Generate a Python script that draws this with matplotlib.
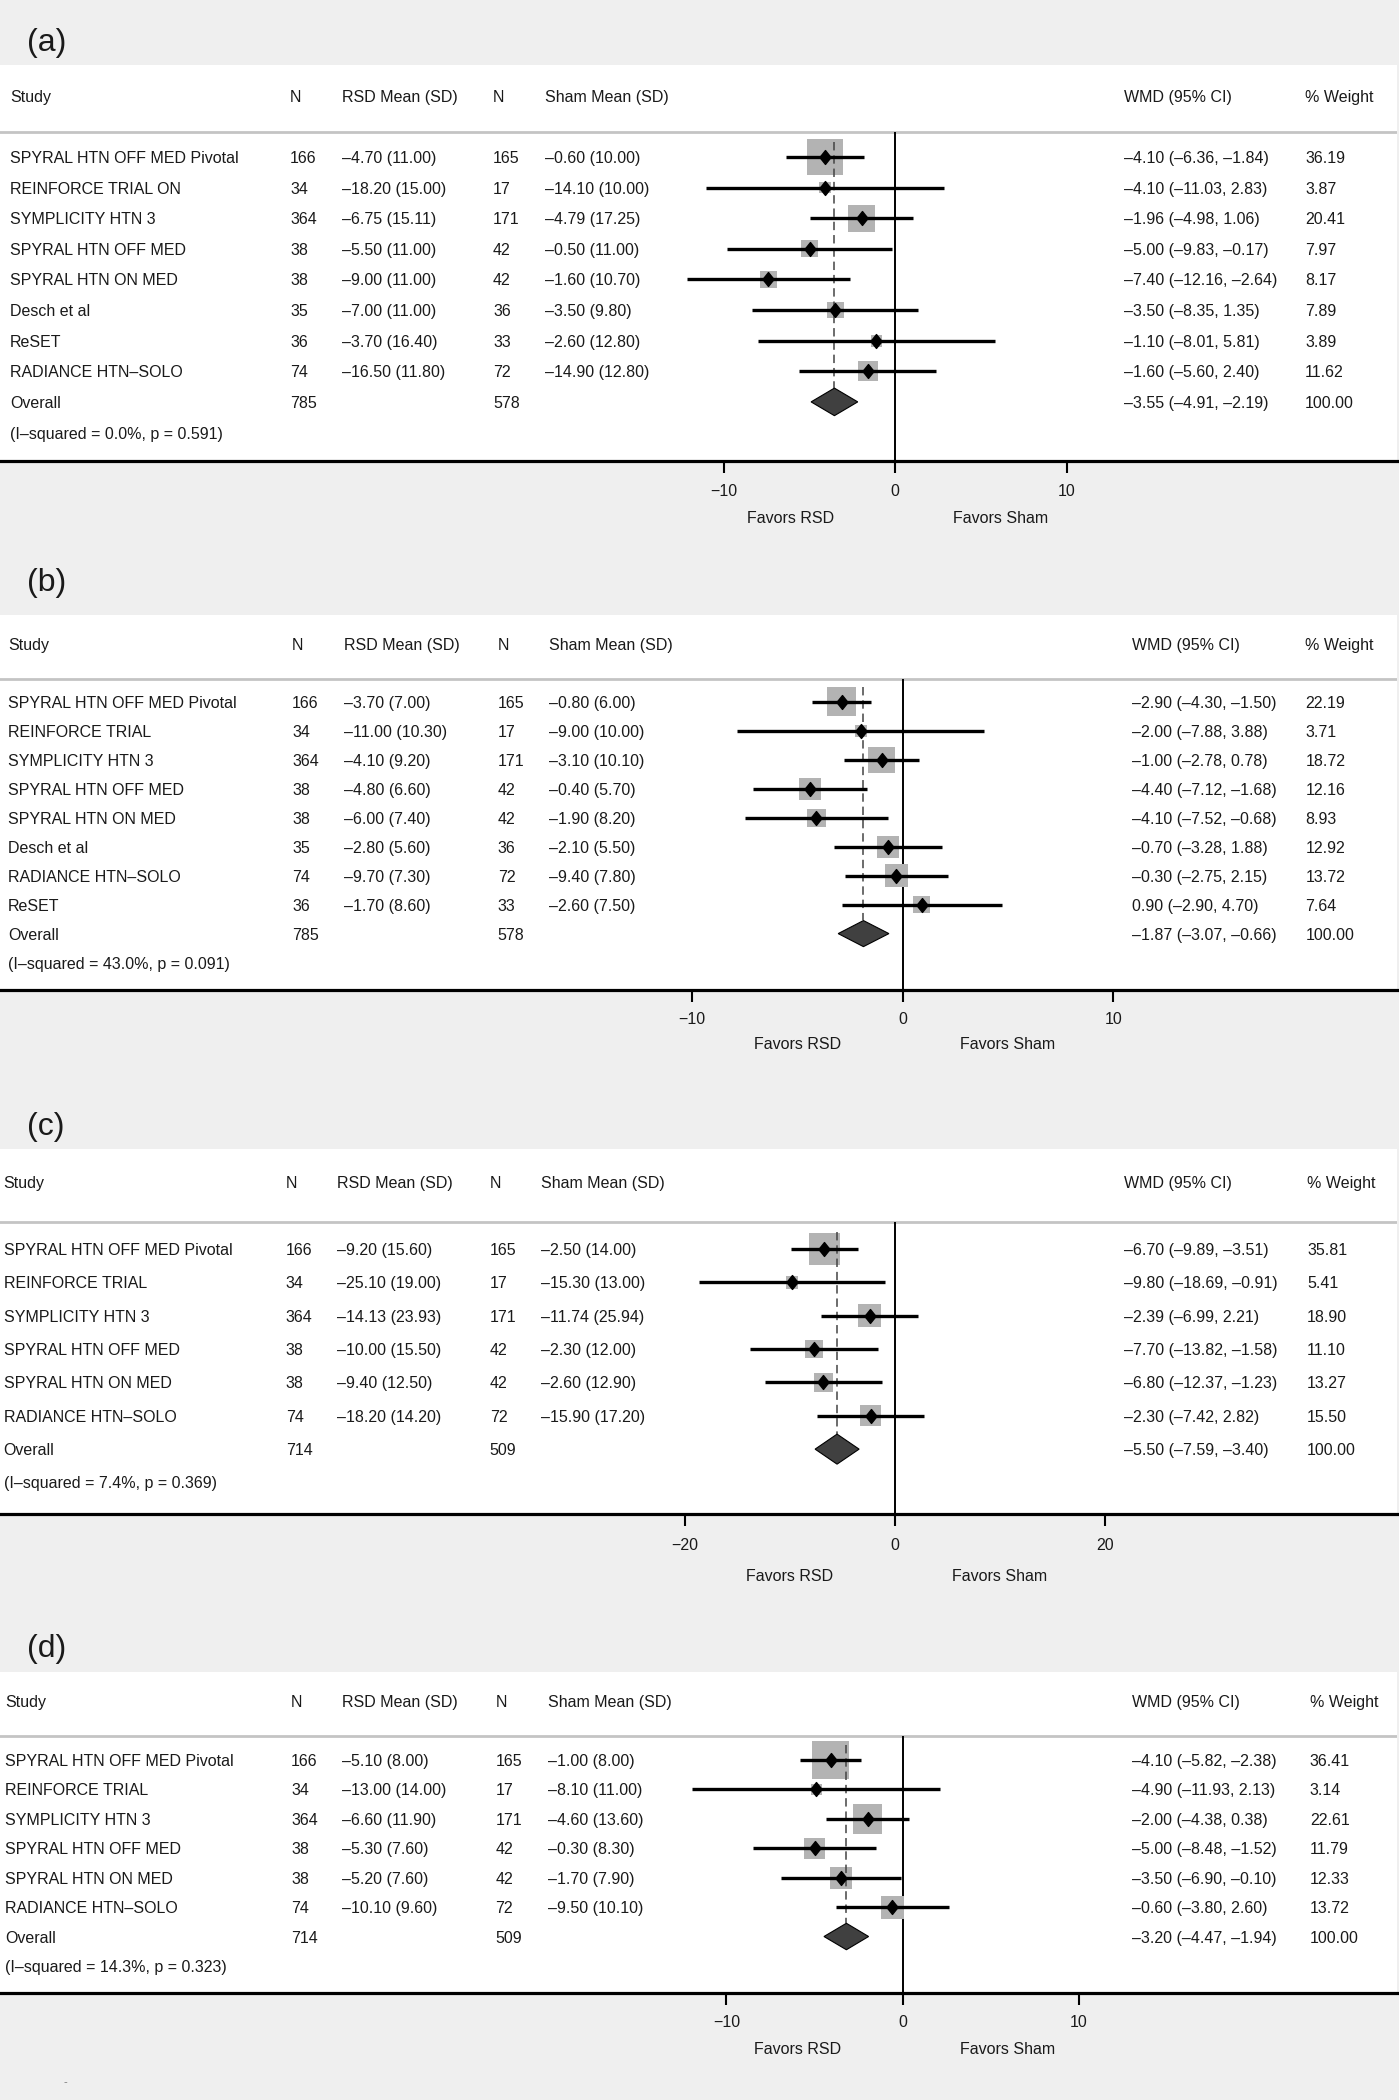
import matplotlib
matplotlib.use("Agg")
import matplotlib.pyplot as plt
from matplotlib.path import Path
from matplotlib.patches import Polygon
import matplotlib.transforms as mtransforms
import numpy as np

plt.rcParams['font.family'] = ['Liberation Sans', 'DejaVu Sans']

# ---------------- data ----------------
# Panel (a)
studies_a = ["SPYRAL HTN OFF MED Pivotal", "REINFORCE TRIAL ON", "SYMPLICITY HTN 3",
             "SPYRAL HTN OFF MED", "SPYRAL HTN ON MED", "Desch et al", "ReSET",
             "RADIANCE HTN–SOLO"]
n_rsd_a = [166, 34, 364, 38, 38, 35, 36, 74]
rsd_mean_a = [-4.70, -18.20, -6.75, -5.50, -9.00, -7.00, -3.70, -16.50]
rsd_sd_a = [11.00, 15.00, 15.11, 11.00, 11.00, 11.00, 16.40, 11.80]
n_sham_a = [165, 17, 171, 42, 42, 36, 33, 72]
sham_mean_a = [-0.60, -14.10, -4.79, -0.50, -1.60, -3.50, -2.60, -14.90]
sham_sd_a = [10.00, 10.00, 17.25, 11.00, 10.70, 9.80, 12.80, 12.80]
wmd_a = [-4.10, -4.10, -1.96, -5.00, -7.40, -3.50, -1.10, -1.60]
lo_a = [-6.36, -11.03, -4.98, -9.83, -12.16, -8.35, -8.01, -5.60]
hi_a = [-1.84, 2.83, 1.06, -0.17, -2.64, 1.35, 5.81, 2.40]
wt_a = [36.19, 3.87, 20.41, 7.97, 8.17, 7.89, 3.89, 11.62]
total_a = [785, 578]
overall_a = [-3.55, -4.91, -2.19]
het_a = [0.0, 0.591]
ticks_a = [-10, 0, 10]

# Panel (b)
studies_b = ["SPYRAL HTN OFF MED Pivotal", "REINFORCE TRIAL", "SYMPLICITY HTN 3",
             "SPYRAL HTN OFF MED", "SPYRAL HTN ON MED", "Desch et al",
             "RADIANCE HTN–SOLO", "ReSET"]
n_rsd_b = [166, 34, 364, 38, 38, 35, 74, 36]
rsd_mean_b = [-3.70, -11.00, -4.10, -4.80, -6.00, -2.80, -9.70, -1.70]
rsd_sd_b = [7.00, 10.30, 9.20, 6.60, 7.40, 5.60, 7.30, 8.60]
n_sham_b = [165, 17, 171, 42, 42, 36, 72, 33]
sham_mean_b = [-0.80, -9.00, -3.10, -0.40, -1.90, -2.10, -9.40, -2.60]
sham_sd_b = [6.00, 10.00, 10.10, 5.70, 8.20, 5.50, 7.80, 7.50]
wmd_b = [-2.90, -2.00, -1.00, -4.40, -4.10, -0.70, -0.30, 0.90]
lo_b = [-4.30, -7.88, -2.78, -7.12, -7.52, -3.28, -2.75, -2.90]
hi_b = [-1.50, 3.88, 0.78, -1.68, -0.68, 1.88, 2.15, 4.70]
wt_b = [22.19, 3.71, 18.72, 12.16, 8.93, 12.92, 13.72, 7.64]
total_b = [785, 578]
overall_b = [-1.87, -3.07, -0.66]
het_b = [43.0, 0.091]
ticks_b = [-10, 0, 10]

# Panel (c)
studies_c = ["SPYRAL HTN OFF MED Pivotal", "REINFORCE TRIAL", "SYMPLICITY HTN 3",
             "SPYRAL HTN OFF MED", "SPYRAL HTN ON MED", "RADIANCE HTN–SOLO"]
n_rsd_c = [166, 34, 364, 38, 38, 74]
rsd_mean_c = [-9.20, -25.10, -14.13, -10.00, -9.40, -18.20]
rsd_sd_c = [15.60, 19.00, 23.93, 15.50, 12.50, 14.20]
n_sham_c = [165, 17, 171, 42, 42, 72]
sham_mean_c = [-2.50, -15.30, -11.74, -2.30, -2.60, -15.90]
sham_sd_c = [14.00, 13.00, 25.94, 12.00, 12.90, 17.20]
wmd_c = [-6.70, -9.80, -2.39, -7.70, -6.80, -2.30]
lo_c = [-9.89, -18.69, -6.99, -13.82, -12.37, -7.42]
hi_c = [-3.51, -0.91, 2.21, -1.58, -1.23, 2.82]
wt_c = [35.81, 5.41, 18.90, 11.10, 13.27, 15.50]
total_c = [714, 509]
overall_c = [-5.50, -7.59, -3.40]
het_c = [7.4, 0.369]
ticks_c = [-20, 0, 20]

# Panel (d)
studies_d = ["SPYRAL HTN OFF MED Pivotal", "REINFORCE TRIAL", "SYMPLICITY HTN 3",
             "SPYRAL HTN OFF MED", "SPYRAL HTN ON MED", "RADIANCE HTN–SOLO"]
n_rsd_d = [166, 34, 364, 38, 38, 74]
rsd_mean_d = [-5.10, -13.00, -6.60, -5.30, -5.20, -10.10]
rsd_sd_d = [8.00, 14.00, 11.90, 7.60, 7.60, 9.60]
n_sham_d = [165, 17, 171, 42, 42, 72]
sham_mean_d = [-1.00, -8.10, -4.60, -0.30, -1.70, -9.50]
sham_sd_d = [8.00, 11.00, 13.60, 8.30, 7.90, 10.10]
wmd_d = [-4.10, -4.90, -2.00, -5.00, -3.50, -0.60]
lo_d = [-5.82, -11.93, -4.38, -8.48, -6.90, -3.80]
hi_d = [-2.38, 2.13, 0.38, -1.52, -0.10, 2.60]
wt_d = [36.41, 3.14, 22.61, 11.79, 12.33, 13.72]
total_d = [714, 509]
overall_d = [-3.20, -4.47, -1.94]
het_d = [14.3, 0.323]
ticks_d = [-10, 0, 10]

panel_labels = ["(a)", "(b)", "(c)", "(d)"]
headers = ["Study", "N", "RSD Mean (SD)", "N", "Sham Mean (SD)", "WMD (95% CI)", "% Weight"]
favors = ["Favors RSD", "Favors Sham"]

# ---------------- layout (pixels) ----------------
W, H = 1399, 2100
PANEL_W = 1397
layouts = [
    dict(top=65, bottom=461, zero=895.3, k=17.15, label_y=43, fav_dy=58, box=6.0, tpad=8.1,
         cols=[10, 290, 341.5, 493, 545, 1123.5, 1305]),
    dict(top=615, bottom=989.5, zero=902.8, k=21.05, label_y=583, fav_dy=55, box=6.15, tpad=7.8,
         cols=[8, 292, 343.7, 497.7, 549, 1131.5, 1305.4]),
    dict(top=1149, bottom=1513.5, zero=894.8, k=10.5, label_y=1127, fav_dy=62.7, box=5.3, tpad=9.4,
         cols=[3.6, 285.7, 337, 489.7, 541, 1123.5, 1307]),
    dict(top=1671.7, bottom=1993.3, zero=902.8, k=17.63, label_y=1649, fav_dy=55.7, box=6.2, tpad=7.2,
         cols=[5.4, 291, 342.4, 495.5, 548.2, 1132.4, 1309.8]),
]

panels = [
    dict(studies=studies_a, n_rsd=n_rsd_a, rsd_mean=rsd_mean_a, rsd_sd=rsd_sd_a,
         n_sham=n_sham_a, sham_mean=sham_mean_a, sham_sd=sham_sd_a, wmd=wmd_a,
         lo=lo_a, hi=hi_a, wt=wt_a, total=total_a, overall=overall_a, het=het_a, ticks=ticks_a),
    dict(studies=studies_b, n_rsd=n_rsd_b, rsd_mean=rsd_mean_b, rsd_sd=rsd_sd_b,
         n_sham=n_sham_b, sham_mean=sham_mean_b, sham_sd=sham_sd_b, wmd=wmd_b,
         lo=lo_b, hi=hi_b, wt=wt_b, total=total_b, overall=overall_b, het=het_b, ticks=ticks_b),
    dict(studies=studies_c, n_rsd=n_rsd_c, rsd_mean=rsd_mean_c, rsd_sd=rsd_sd_c,
         n_sham=n_sham_c, sham_mean=sham_mean_c, sham_sd=sham_sd_c, wmd=wmd_c,
         lo=lo_c, hi=hi_c, wt=wt_c, total=total_c, overall=overall_c, het=het_c, ticks=ticks_c),
    dict(studies=studies_d, n_rsd=n_rsd_d, rsd_mean=rsd_mean_d, rsd_sd=rsd_sd_d,
         n_sham=n_sham_d, sham_mean=sham_mean_d, sham_sd=sham_sd_d, wmd=wmd_d,
         lo=lo_d, hi=hi_d, wt=wt_d, total=total_d, overall=overall_d, het=het_d, ticks=ticks_d),
]

TXT = '#1a1a1a'
FS = 11.5
BG = '#efefef'

pt_marker = Path([(0, 1), (0.8, 0), (0, -1), (-0.8, 0), (0, 1)],
                 [Path.MOVETO, Path.LINETO, Path.LINETO, Path.LINETO, Path.CLOSEPOLY])


def fmt(v):
    return f"{v:.2f}".replace("-", "–")


fig = plt.figure(figsize=(W / 100, H / 100), dpi=100, facecolor=BG)

for label, p, L in zip(panel_labels, panels, layouts):
    n = len(p["studies"])
    ybot = n + 1.93
    ax = fig.add_axes([0, 1 - L["bottom"] / H, PANEL_W / W, (L["bottom"] - L["top"]) / H])
    ax.set_facecolor('white')
    ax.set_xlim(-L["zero"] / L["k"], (PANEL_W - L["zero"]) / L["k"])
    ax.set_ylim(ybot, -3.0)
    for s in ["top", "left", "right"]:
        ax.spines[s].set_visible(False)
    ax.spines["bottom"].set_linewidth(2.3)
    ax.spines["bottom"].set_color("black")
    ax.set_yticks([])
    ax.set_xticks(p["ticks"])
    ax.tick_params(axis="x", direction="out", length=8.5, width=1.5, pad=L["tpad"],
                   labelsize=FS, labelcolor=TXT, color="black")

    # header separator and zero line
    ax.axhline(-0.8, color="#c4c4c4", lw=2.0, zorder=1)
    ax.vlines(0, -0.8, ybot, color="black", lw=1.4, zorder=1)

    y = np.arange(n)
    wt = np.array(p["wt"])
    side_pt = L["box"] * np.sqrt(wt) * 0.72
    ax.scatter(p["wmd"], y, s=side_pt ** 2, marker="s", color="#b3b3b3",
               linewidths=0, zorder=2)
    est, olo, ohi = p["overall"]
    ax.vlines(est, -0.5, n - 0.46, colors="#444444", linestyles=(0, (5.5, 3.2)),
              lw=1.1, zorder=3)
    ax.hlines(y, p["lo"], p["hi"], color="black", lw=2.4, zorder=4)
    ax.plot(p["wmd"], y, linestyle="none", marker=pt_marker, ms=10, color="black", zorder=5)
    ax.add_patch(Polygon([(olo, n), (est, n - 0.45), (ohi, n), (est, n + 0.45)],
                         closed=True, fc="#404040", ec="black", lw=0.8, zorder=4))

    tr = mtransforms.blended_transform_factory(ax.transAxes, ax.transData)
    cx = [c / PANEL_W for c in L["cols"]]
    kw = dict(transform=tr, fontsize=FS, color=TXT, va="center_baseline", ha="left")
    for xc, h in zip(cx, headers):
        ax.text(xc, -2.0, h, **kw)
    for i in range(n):
        row = [p["studies"][i], str(p["n_rsd"][i]),
               f"{fmt(p['rsd_mean'][i])} ({p['rsd_sd'][i]:.2f})",
               str(p["n_sham"][i]),
               f"{fmt(p['sham_mean'][i])} ({p['sham_sd'][i]:.2f})",
               f"{fmt(p['wmd'][i])} ({fmt(p['lo'][i])}, {fmt(p['hi'][i])})",
               f"{p['wt'][i]:.2f}"]
        for xc, t in zip(cx, row):
            ax.text(xc, i, t, **kw)
    ov_row = {0: "Overall", 1: str(p["total"][0]), 3: str(p["total"][1]),
              5: f"{fmt(est)} ({fmt(olo)}, {fmt(ohi)})", 6: f"{100:.2f}"}
    for j, t in ov_row.items():
        ax.text(cx[j], n, t, **kw)
    ax.text(cx[0], n + 1, f"(I–squared = {p['het'][0]:.1f}%, p = {p['het'][1]:.3f})", **kw)

    # favors labels
    btr = mtransforms.blended_transform_factory(ax.transData, ax.transAxes)
    for sign, t in zip([-1, 1], favors):
        ax.annotate(t, xy=(0, 0), xycoords=btr,
                    xytext=(sign * 105 * 0.72, -L["fav_dy"] * 0.72), textcoords="offset points",
                    ha="center", va="center", fontsize=FS, color=TXT)

    fig.text(27 / W, 1 - L["label_y"] / H, label, fontsize=23, ha="left", va="center",
             color=TXT)

fig.text(65 / W, 1 - 2082 / H, "-", fontsize=8, ha="center", va="center", color="#777777")

fig.savefig("out.png", dpi=100, facecolor=BG)
